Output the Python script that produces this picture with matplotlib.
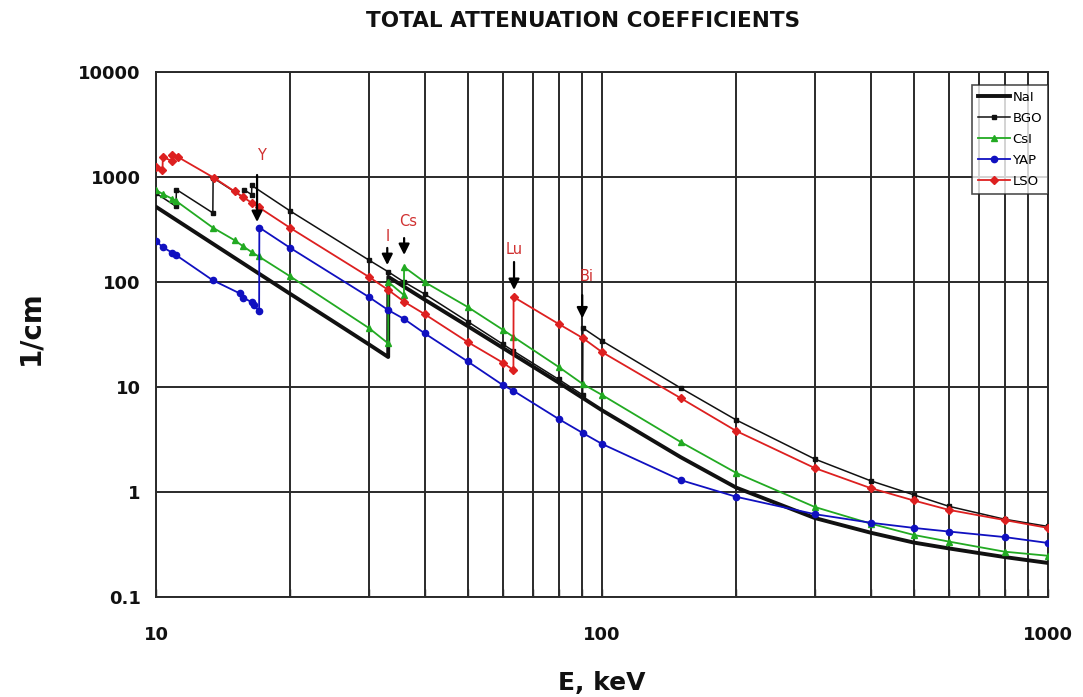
import matplotlib
matplotlib.use('Agg')
import matplotlib.pyplot as plt
from matplotlib.ticker import FixedLocator, NullFormatter, FixedFormatter

# ---------------- data ----------------
nai_e = [10, 15, 20, 25, 30, 33.16, 33.18, 40, 50, 60, 80, 100, 150, 200, 300, 400, 500, 600, 800, 1000]
nai_mu = [520, 170, 77, 42, 25.5, 19.3, 112, 68, 38, 23.5, 11, 6.0, 2.15, 1.1, 0.565, 0.41, 0.33, 0.29, 0.24, 0.211]

bgo_e = [10, 11.09, 11.11, 13.41, 13.43, 15.70, 15.72, 16.38, 16.40, 20, 30, 33.17, 35.98, 40, 50, 60, 63.3,
         80, 90.5, 90.6, 100, 150, 200, 300, 400, 500, 600, 800, 1000]
bgo_mu = [700, 525, 760, 455, 980, 640, 760, 680, 830, 474, 162, 125, 100, 77, 42, 25.5, 22,
          11.8, 8.4, 36.5, 27.5, 9.8, 4.85, 2.06, 1.28, 0.94, 0.73, 0.55, 0.47]

csi_e = [10, 10.35, 10.87, 11.1, 13.4, 15.0, 15.7, 16.4, 17.0, 20, 30, 33.16, 33.18, 35.97, 35.99, 40, 50, 60,
         63.3, 80, 90.5, 100, 150, 200, 300, 400, 500, 600, 800, 1000]
csi_mu = [750, 690, 620, 590, 330, 250, 218, 192, 175, 113, 36.5, 26, 100, 75, 139, 100, 57.8, 35,
          30, 15.5, 10.7, 8.4, 3.0, 1.52, 0.72, 0.5, 0.39, 0.337, 0.27, 0.247]

yap_e = [10, 10.35, 10.87, 11.1, 13.4, 15.4, 15.7, 16.4, 16.6, 17.03, 17.05, 20, 30, 33.17, 35.98, 40, 50, 60,
         63.3, 80, 90.5, 100, 150, 200, 300, 400, 500, 600, 800, 1000]
yap_mu = [245, 215, 190, 180, 104, 78, 71, 64, 60, 52.5, 330, 211, 72, 54, 44.5, 32.5, 17.5, 10.4,
          9.2, 4.95, 3.65, 2.87, 1.3, 0.9, 0.615, 0.51, 0.455, 0.42, 0.372, 0.327]

lso_e = [10, 10.34, 10.36, 10.86, 10.88, 11.2, 13.5, 15.0, 15.7, 16.4, 17.0, 20, 30, 33.17, 35.98, 40, 50, 60,
         63.3, 63.35, 80, 90.5, 100, 150, 200, 300, 400, 500, 600, 800, 1000]
lso_mu = [1250, 1160, 1550, 1420, 1620, 1550, 980, 730, 640, 567, 515, 327, 112, 84, 65, 49.5, 26.8, 17,
          14.5, 72, 39.8, 29.3, 21.5, 7.85, 3.81, 1.69, 1.09, 0.83, 0.675, 0.54, 0.455]

edge_labels = ["Y", "I", "Cs", "Lu", "Bi"]
label_e = [17.2, 33.0, 36.7, 63.7, 92.6]
label_mu = [1620, 269, 373, 202, 112]
arrow_e = [16.85, 33.0, 36.0, 63.5, 90.3]
arrow_top = [1045, 211, 262, 155, 75]
arrow_tip = [373, 145, 181, 84, 45]

y_ticks = [0.1, 1, 10, 100, 1000, 10000]
y_ticklabels = ["0.1", "1", "10", "100", "1000", "10000"]
x_ticks = [10, 100, 1000]
x_ticklabels = ["10", "100", "1000"]

# ---------------- figure ----------------
fig = plt.figure(figsize=(10.83, 6.97), dpi=100)
ax = fig.add_axes([156 / 1083, 1 - 597 / 697, (1048 - 156) / 1083, (597 - 72) / 697])
ax.set_xscale('log')
ax.set_yscale('log')
ax.set_xlim(10, 1000)
ax.set_ylim(0.1, 10000)

gridc = '#2a2a2a'
minor_x = [v * d for d in (10, 100) for v in range(2, 10)]
ax.xaxis.set_major_locator(FixedLocator(x_ticks))
ax.xaxis.set_major_formatter(FixedFormatter(x_ticklabels))
ax.xaxis.set_minor_locator(FixedLocator(minor_x))
ax.xaxis.set_minor_formatter(NullFormatter())
ax.yaxis.set_major_locator(FixedLocator(y_ticks))
ax.yaxis.set_major_formatter(FixedFormatter(y_ticklabels))
ax.yaxis.set_minor_locator(FixedLocator([]))

for v in x_ticks + minor_x:
    ax.axvline(v, color=gridc, lw=1.4, zorder=1)
for v in y_ticks:
    ax.axhline(v, color=gridc, lw=1.4, zorder=1)
for s in ax.spines.values():
    s.set_color(gridc)
    s.set_linewidth(1.4)

ax.tick_params(axis='x', which='both', direction='in', length=6, width=1, color=gridc,
               pad=21, labelsize=13)
ax.tick_params(axis='y', which='both', direction='in', length=0, pad=11, labelsize=13)
for lbl in ax.get_xticklabels() + ax.get_yticklabels():
    lbl.set_fontweight('bold')
    lbl.set_color('#111111')

ax.plot(nai_e, nai_mu, color='#111111', lw=2.8, label='NaI', zorder=3)
ax.plot(bgo_e, bgo_mu, color='#111111', lw=1.1, marker='s', ms=2.6, label='BGO', zorder=4)
ax.plot(csi_e, csi_mu, color='#22aa22', lw=1.3, marker='^', ms=5, label='CsI', zorder=4)
ax.plot(yap_e, yap_mu, color='#1010c0', lw=1.3, marker='o', ms=4.5, label='YAP', zorder=4)
ax.plot(lso_e, lso_mu, color='#dd2020', lw=1.3, marker='D', ms=4, label='LSO', zorder=4)

for lab, le, lm, ae, at, ab in zip(edge_labels, label_e, label_mu, arrow_e, arrow_top, arrow_tip):
    ax.text(le, lm, lab, color='#d03030', fontsize=10.5, ha='center', va='center', zorder=6)
    ax.annotate('', xy=(ae, ab), xytext=(ae, at),
                arrowprops=dict(arrowstyle='-|>', color='black', lw=1.6, mutation_scale=16,
                                shrinkA=0, shrinkB=0), zorder=6)

leg = ax.legend(loc='upper right', bbox_to_anchor=(1.0, 1 - 13 / 525), borderaxespad=0,
                fontsize=9.5, frameon=True, fancybox=False, edgecolor='#222222',
                handlelength=2.4, handletextpad=0.2, labelspacing=0.6, borderpad=0.45)
leg.get_frame().set_linewidth(1.2)
leg.set_zorder(7)

fig.text(583 / 1083, 1 - 21 / 697, 'TOTAL ATTENUATION COEFFICIENTS', ha='center', va='center',
         fontsize=15.5, fontweight='bold', color='#111111')
fig.text(30 / 1083, 1 - 328 / 697, '1/cm', rotation=90, ha='center', va='center',
         fontsize=20, fontweight='bold', color='#111111')
fig.text(602 / 1083, 1 - 683 / 697, 'E, keV', ha='center', va='center', fontsize=18,
         fontweight='bold', color='#111111')

fig.savefig('out.png', dpi=100, facecolor='white')
